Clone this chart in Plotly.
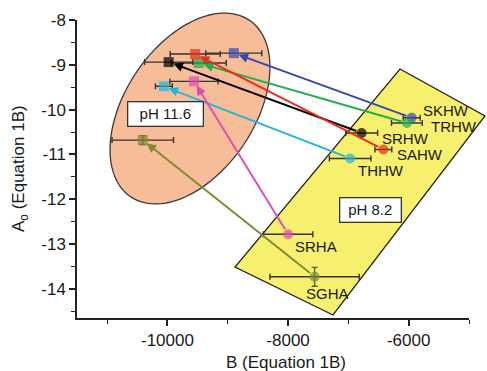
import math
import plotly.graph_objects as go

# ---------------- data ----------------
samples = ["SKHW", "TRHW", "SRHW", "SAHW", "THHW", "SRHA", "SGHA"]
colors = ["#3447b5", "#20ad4b", "#000000", "#ec2b1d", "#22b5da", "#e04bb3", "#7d8a2f"]

# pH 11.6 (squares)
B_ph116 = [-8900, -9480, -9980, -9540, -10060, -9560, -10410]
A_ph116 = [-8.74, -8.96, -8.94, -8.76, -9.48, -9.37, -10.68]
B_ph116_err = [465, 455, 400, 415, 140, 400, 510]
A_ph116_err = [0, 0, 0, 0, 0, 0, 0.10]

# pH 8.2 (circles)
B_ph82 = [-5950, -6030, -6780, -6420, -6970, -8000, -7560]
A_ph82 = [-10.18, -10.30, -10.52, -10.89, -11.09, -12.78, -13.73]
B_ph82_err = [140, 255, 265, 140, 345, 410, 740]
A_ph82_err = [0, 0, 0, 0, 0, 0, 0.21]

x_ticks = [-10000, -8000, -6000]
x_ticktext = ["-10000", "-8000", "-6000"]
y_ticks = [-8, -9, -10, -11, -12, -13, -14]
y_ticktext = ["-8", "-9", "-10", "-11", "-12", "-13", "-14"]

# label offsets in pixels (dx, dy up)
label_offsets = [(9, 7), (22, -3), (18, -6), (12, -5), (6, -12), (5, -12), (-11, -17)]

# ---------------- layout geometry ----------------
W, H = 487, 371
ML, MR, MT, MB = 77, 18, 20, 53
PW, PH = W - ML - MR, H - MT - MB


def px2paper(px, py):
    return (px - ML) / PW, (H - MB - py) / PH


# ellipse (pH 11.6 region), defined in screen pixels
ecx, ecy, ea, eb, eth = 190, 108.5, 106.4, 64.7, math.radians(56.2)
pts = []
for k in range(0, 121):
    t = 2 * math.pi * k / 120
    u, v = ea * math.cos(t), eb * math.sin(t)
    dx = u * math.cos(eth) - v * math.sin(eth)
    dy = u * math.sin(eth) + v * math.cos(eth)
    pts.append(px2paper(ecx + dx, ecy - dy))
ell_path = "M " + " L ".join(f"{x:.4f},{y:.4f}" for x, y in pts) + " Z"

# parallelogram (pH 8.2 region)
corners = [(400, 69), (485, 116), (333, 315), (235, 267)]
par = [px2paper(*c) for c in corners]
par_path = "M " + " L ".join(f"{x:.4f},{y:.4f}" for x, y in par) + " Z"

fig = go.Figure()

for i, s in enumerate(samples):
    ey = [A_ph116_err[i], A_ph82_err[i]]
    fig.add_trace(go.Scatter(
        x=[B_ph116[i], B_ph82[i]], y=[A_ph116[i], A_ph82[i]],
        mode="markers", name=s, showlegend=False,
        marker=dict(symbol=["square", "circle"], size=[10, 10], color=colors[i],
                    line=dict(width=0)),
        error_x=dict(type="data", array=[B_ph116_err[i], B_ph82_err[i]],
                     color="#333333", thickness=1.4, width=3),
        error_y=dict(type="data", array=ey, color="#5e5e38", thickness=1.4, width=3,
                     visible=any(v > 0 for v in ey)),
    ))

annotations = []
# arrows from pH 8.2 to pH 11.6
for i, s in enumerate(samples):
    annotations.append(dict(
        x=B_ph116[i], y=A_ph116[i], ax=B_ph82[i], ay=A_ph82[i],
        xref="x", yref="y", axref="x", ayref="y", text="",
        showarrow=True, arrowhead=2, arrowsize=1.0, arrowwidth=1.9,
        arrowcolor=colors[i], standoff=5, startstandoff=4,
    ))
# sample labels
for i, s in enumerate(samples):
    dx, dy = label_offsets[i]
    annotations.append(dict(
        x=B_ph82[i], y=A_ph82[i], xref="x", yref="y", text=s, showarrow=False,
        xanchor="left", yanchor="middle", xshift=dx, yshift=dy,
        font=dict(family="Liberation Sans, Arial, sans-serif", size=15, color="#1a1a1a"),
    ))
# pH boxes
for txt, cx, cy, w in [("pH 11.6", 165.3, 114.2, 70), ("pH 8.2", 370.5, 210, 56)]:
    xp, yp = px2paper(cx, cy)
    annotations.append(dict(
        x=xp, y=yp, xref="paper", yref="paper", text=txt, showarrow=False,
        xanchor="center", yanchor="middle", bgcolor="white", bordercolor="#333",
        borderwidth=1.3, borderpad=2, width=w, height=19,
        font=dict(family="Liberation Sans, Arial, sans-serif", size=15, color="#1a1a1a"),
    ))
# axis titles
xp, yp = px2paper(286, 362)
annotations.append(dict(x=xp, y=yp, xref="paper", yref="paper", text="B (Equation 1B)",
                        showarrow=False, xanchor="center", yanchor="middle",
                        font=dict(family="Liberation Sans, Arial, sans-serif", size=17, color="#1a1a1a")))
xp, yp = px2paper(20, 169)
annotations.append(dict(x=xp, y=yp, xref="paper", yref="paper",
                        text="A<sub>o</sub> (Equation 1B)", textangle=-90,
                        showarrow=False, xanchor="center", yanchor="middle",
                        font=dict(family="Liberation Sans, Arial, sans-serif", size=17, color="#1a1a1a")))

shapes = [
    dict(type="path", path=ell_path, xref="paper", yref="paper", layer="below",
         fillcolor="#f6bd98", line=dict(color="#3a3a3a", width=1.3)),
    dict(type="path", path=par_path, xref="paper", yref="paper", layer="below",
         fillcolor="#f6f06e", line=dict(color="#222", width=1.3)),
]

axis_font = dict(family="Liberation Sans, Arial, sans-serif", size=17, color="#1a1a1a")
fig.update_layout(
    width=W, height=H, margin=dict(l=ML, r=MR, t=MT, b=MB, pad=0),
    paper_bgcolor="white", plot_bgcolor="rgba(0,0,0,0)",
    shapes=shapes, annotations=annotations, showlegend=False,
    xaxis=dict(range=[-11500, -5000], tickvals=x_ticks, ticktext=x_ticktext,
               showline=True, linecolor="#222", linewidth=1.5, ticks="outside",
               ticklen=6, tickwidth=1.5, tickcolor="#222", showgrid=False, zeroline=False,
               tickfont=axis_font,
               minor=dict(tickvals=[-11000, -9000, -7000, -5000], ticks="outside",
                          ticklen=4, tickwidth=1.3, tickcolor="#222", showgrid=False)),
    yaxis=dict(range=[-14.65, -8], tickvals=y_ticks, ticktext=y_ticktext,
               showline=True, linecolor="#222", linewidth=1.5, ticks="outside",
               ticklen=6, tickwidth=1.5, tickcolor="#222", showgrid=False, zeroline=False,
               tickfont=axis_font,
               minor=dict(tickvals=[-8.5, -9.5, -10.5, -11.5, -12.5, -13.5, -14.5],
                          ticks="outside", ticklen=4, tickwidth=1.3, tickcolor="#222",
                          showgrid=False)),
)

fig.write_html("out.html")
